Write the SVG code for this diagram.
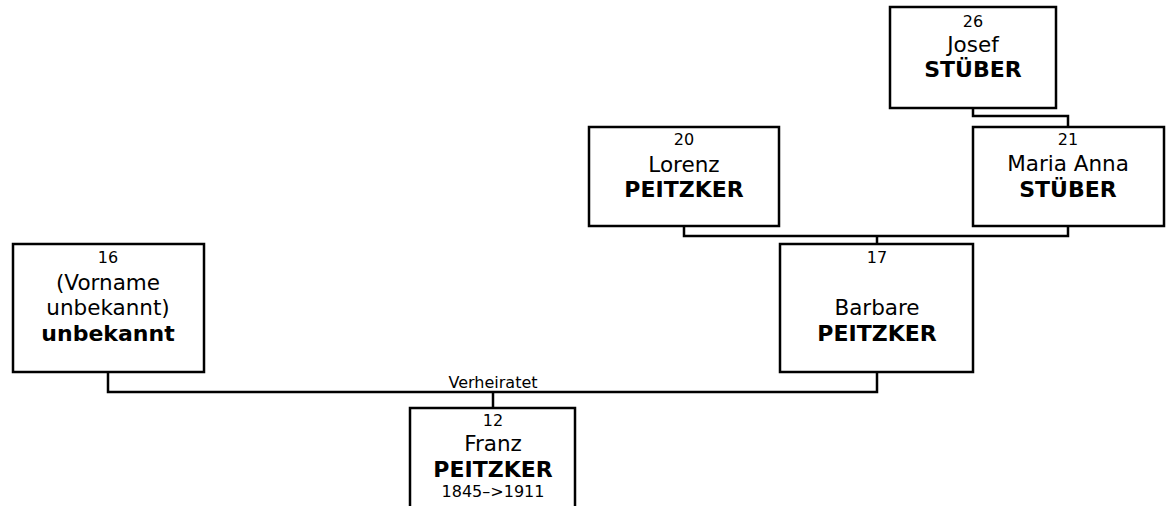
<svg xmlns="http://www.w3.org/2000/svg" width="1171" height="506" viewBox="0 0 1171 506">
<style>
.box{fill:#fff;stroke:#000;stroke-width:2.5}
.ln{fill:none;stroke:#000;stroke-width:2.5}
text{font-family:"DejaVu Sans",Verdana,sans-serif;text-anchor:middle;fill:#000}
.n{font-size:16px}
.g{font-size:21.5px}
.s{font-size:22px;font-weight:bold}
.d{font-size:16px}
.lbl{font-size:16px}
</style>
<rect width="1171" height="506" fill="#fff"/>
<g id="connectors">
<polyline class="ln" points="973,108 973,116 1068,116 1068,127"/>
<polyline class="ln" points="684,226 684,236 1068,236 1068,226"/>
<line class="ln" x1="877" y1="236" x2="877" y2="244"/>
<polyline class="ln" points="108,372 108,392 877,392 877,372"/>
<line class="ln" x1="493" y1="392" x2="493" y2="408"/>
<text class="lbl" x="493" y="388">Verheiratet</text>
</g>
<g id="p26">
<rect class="box" x="890" y="7" width="166" height="101"/>
<text class="n" x="973" y="27">26</text>
<text class="g" x="973" y="52">Josef</text>
<text class="s" x="973" y="77">STÜBER</text>
</g>
<g id="p20">
<rect class="box" x="589" y="127" width="190" height="99"/>
<text class="n" x="684" y="145">20</text>
<text class="g" x="684" y="172">Lorenz</text>
<text class="s" x="684" y="197">PEITZKER</text>
</g>
<g id="p21">
<rect class="box" x="973" y="127" width="191" height="99"/>
<text class="n" x="1068" y="145">21</text>
<text class="g" x="1068" y="171">Maria Anna</text>
<text class="s" x="1068" y="197">STÜBER</text>
</g>
<g id="p16">
<rect class="box" x="13" y="244" width="191" height="128"/>
<text class="n" x="108" y="263">16</text>
<text class="g" x="108" y="290">(Vorname</text>
<text class="g" x="108" y="315">unbekannt)</text>
<text class="s" x="108" y="341">unbekannt</text>
</g>
<g id="p17">
<rect class="box" x="780" y="244" width="193" height="128"/>
<text class="n" x="877" y="263">17</text>
<text class="g" x="877" y="315">Barbare</text>
<text class="s" x="877" y="341">PEITZKER</text>
</g>
<g id="p12">
<rect class="box" x="410" y="408" width="165" height="120"/>
<text class="n" x="493" y="426">12</text>
<text class="g" x="493" y="451">Franz</text>
<text class="s" x="493" y="477">PEITZKER</text>
<text class="d" x="493" y="497">1845–&gt;1911</text>
</g>
</svg>
